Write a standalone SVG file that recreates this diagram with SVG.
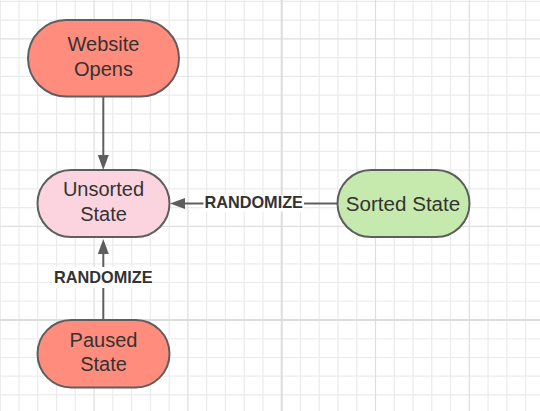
<svg xmlns="http://www.w3.org/2000/svg" width="540" height="411" viewBox="0 0 540 411">
<style>
.minor{stroke:#ebebeb;stroke-width:1.2;fill:none}
.medium{stroke:#dedede;stroke-width:1.2;fill:none}
.major{stroke:#dcdcdc;stroke-width:2;fill:none}
.node{stroke:#5e5e5e;stroke-width:2}
.red{fill:#ff8c7c}
.pink{fill:#fbd4df}
.green{fill:#c6e9ad}
.nt{font-family:"Liberation Sans",Arial,sans-serif;font-size:20px;fill:#333333;text-anchor:middle}
.edge{stroke:#5e5e5e;stroke-width:2;fill:none}
.lbl{font-family:"Liberation Sans",Arial,sans-serif;font-size:16.3px;font-weight:bold;fill:#333333;text-anchor:middle}
.lblbg{fill:#ffffff}
</style>
<defs>
<marker id="arrow" markerUnits="userSpaceOnUse" markerWidth="16" markerHeight="12" viewBox="0 0 16 12" refX="10" refY="5.5" orient="auto">
<path d="M0,0 L15,5.5 L0,11 Z" fill="#5e5e5e"/>
</marker>
</defs>
<rect width="540" height="411" fill="#ffffff"/>
<g id="grid">
<path class="minor" d="M0.3,0V411M19.06,0V411M37.82,0V411M56.58,0V411M75.34,0V411M112.86,0V411M131.62,0V411M150.38,0V411M169.14,0V411M206.66,0V411M225.42,0V411M244.18,0V411M262.94,0V411M300.46,0V411M319.22,0V411M337.98,0V411M356.74,0V411M394.26,0V411M413.02,0V411M431.78,0V411M450.54,0V411M488.06,0V411M506.82,0V411M525.58,0V411
M0,1.42H540M0,20.16H540M0,57.64H540M0,76.38H540M0,95.12H540M0,113.86H540M0,151.34H540M0,170.08H540M0,188.82H540M0,207.56H540M0,245.04H540M0,263.78H540M0,282.52H540M0,301.26H540M0,338.74H540M0,357.48H540M0,376.22H540M0,394.96H540"/>
<path class="medium" d="M94.1,0V411M187.9,0V411M375.5,0V411M469.3,0V411M0,38.9H540M0,132.6H540M0,226.3H540"/>
<path class="major" d="M281.7,0V411M0,320H540"/>
</g>
<g id="connectors">
<path class="edge" d="M103.3,96 V165" marker-end="url(#arrow)"/>
<path class="edge" d="M337.5,203.5 H175" marker-end="url(#arrow)"/>
<path class="edge" d="M103.3,320 V244" marker-end="url(#arrow)"/>
<rect class="lblbg" x="203.5" y="195" width="100.5" height="16.5"/>
<text class="lbl" x="253.7" y="207.8">RANDOMIZE</text>
<rect class="lblbg" x="53" y="267" width="100.5" height="21"/>
<text class="lbl" x="103.3" y="282.9">RANDOMIZE</text>
</g>
<g id="website-opens">
<rect class="node red" x="28" y="20" width="151" height="76.5" rx="38.25"/>
<text class="nt" x="103.5" y="50.7">Website</text>
<text class="nt" x="103.5" y="76">Opens</text>
</g>
<g id="unsorted-state">
<rect class="node pink" x="37.5" y="170" width="132" height="67" rx="33.5"/>
<text class="nt" x="103.5" y="196">Unsorted</text>
<text class="nt" x="103.5" y="221">State</text>
</g>
<g id="sorted-state">
<rect class="node green" x="337.5" y="170" width="132" height="67" rx="33.5"/>
<text class="nt" x="403" y="210.6" textLength="114.5" lengthAdjust="spacingAndGlyphs">Sorted State</text>
</g>
<g id="paused-state">
<rect class="node red" x="37.5" y="320" width="132" height="67.5" rx="33.75"/>
<text class="nt" x="103.5" y="346.7">Paused</text>
<text class="nt" x="103.5" y="371">State</text>
</g>
</svg>
